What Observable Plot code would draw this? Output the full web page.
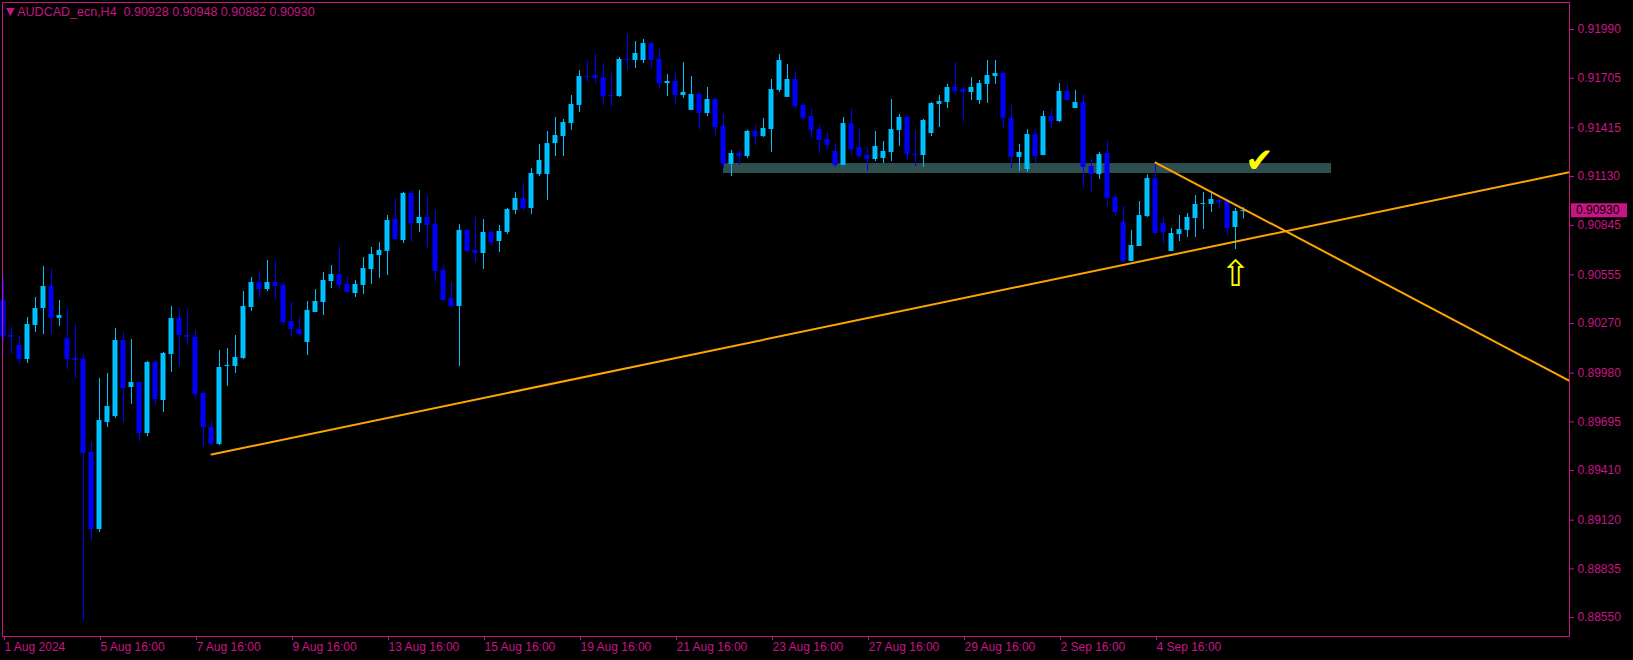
<!DOCTYPE html>
<html><head><meta charset="utf-8">
<script src="https://cdn.jsdelivr.net/npm/d3@7"></script>
<script src="https://cdn.jsdelivr.net/npm/@observablehq/plot@0.6"></script>
<style>
html,body{margin:0;padding:0;background:#000;}
#wrap{position:relative;width:1633px;height:660px;overflow:hidden;background:#000;}
#title{position:absolute;left:6px;top:5px;color:#C71585;font:12.5px "Liberation Sans",Arial,sans-serif;white-space:pre;z-index:2;}
#title .tri{font:11px "DejaVu Sans";position:relative;top:-1px;}
</style></head>
<body><div id="wrap"><div id="title"></div></div>
<script>
const symbol = "AUDCAD_ecn";
const timeframe = "H4";
const opens = [0.90405,0.90200,0.90142,0.90060,0.90259,0.90358,0.90487,0.90300,0.90183,0.90066,
0.90060,0.89516,0.89065,0.89691,0.89726,0.90171,0.89896,0.89925,0.89627,0.90042,
0.89820,0.90089,0.90300,0.90200,0.90189,0.89861,0.89662,0.89563,0.90019,0.90019,
0.90066,0.90364,0.90510,0.90469,0.90510,0.90493,0.90282,0.90235,0.90159,0.90335,
0.90393,0.90516,0.90557,0.90499,0.90446,0.90493,0.90586,0.90668,0.90692,0.90879,
0.90756,0.91031,0.90855,0.90891,0.90850,0.90581,0.90417,0.90370,0.90815,0.90698,
0.90680,0.90803,0.90750,0.90803,0.90932,0.91002,0.90943,0.91142,0.91142,0.91323,
0.91364,0.91440,0.91546,0.91715,0.91721,0.91709,0.91604,0.91598,0.91815,0.91809,
0.91809,0.91908,0.91815,0.91674,0.91686,0.91604,0.91517,0.91610,0.91499,0.91581,
0.91423,0.91201,0.91265,0.91247,0.91394,0.91364,0.91405,0.91634,0.91593,0.91698,
0.91546,0.91481,0.91405,0.91347,0.91277,0.91195,0.91440,0.91300,0.91253,0.91230,
0.91236,0.91271,0.91400,0.91476,0.91259,0.91253,0.91382,0.91552,0.91563,0.91651,
0.91639,0.91622,0.91575,0.91669,0.91715,0.91733,0.91470,0.91242,0.91171,0.91376,
0.91253,0.91481,0.91452,0.91628,0.91528,0.91563,0.91189,0.91142,0.91265,0.91008,
0.90861,0.90633,0.90721,0.90896,0.91119,0.90855,0.90692,0.90791,0.90815,0.90885,
0.90967,0.90967,0.90990,0.90984,0.90832,0.90928];
const highs = [0.90528,0.90247,0.90194,0.90306,0.90423,0.90604,0.90592,0.90405,0.90358,0.90265,
0.90089,0.89574,0.89949,0.89978,0.90241,0.90218,0.90177,0.89925,0.90048,0.90054,
0.90101,0.90370,0.90358,0.90358,0.90230,0.89873,0.89697,0.90113,0.90124,0.90200,
0.90458,0.90540,0.90575,0.90639,0.90639,0.90510,0.90393,0.90306,0.90399,0.90469,
0.90569,0.90610,0.90715,0.90545,0.90522,0.90657,0.90715,0.90744,0.90902,0.91002,
0.91037,0.91049,0.91049,0.91019,0.90932,0.90610,0.90510,0.90850,0.90815,0.90891,
0.90879,0.90815,0.90844,0.90943,0.91037,0.91089,0.91177,0.91318,0.91394,0.91476,
0.91464,0.91604,0.91750,0.91809,0.91844,0.91791,0.91733,0.91826,0.91961,0.91920,
0.91932,0.91908,0.91873,0.91727,0.91733,0.91797,0.91715,0.91622,0.91651,0.91587,
0.91493,0.91283,0.91277,0.91400,0.91429,0.91470,0.91698,0.91844,0.91786,0.91744,
0.91557,0.91528,0.91429,0.91388,0.91323,0.91476,0.91522,0.91405,0.91300,0.91394,
0.91335,0.91581,0.91493,0.91487,0.91400,0.91464,0.91563,0.91604,0.91669,0.91797,
0.91651,0.91709,0.91692,0.91809,0.91809,0.91744,0.91546,0.91318,0.91405,0.91405,
0.91511,0.91522,0.91674,0.91669,0.91634,0.91610,0.91230,0.91271,0.91341,0.91025,
0.90955,0.90815,0.90984,0.91142,0.91212,0.90885,0.90826,0.90902,0.90914,0.91019,
0.91037,0.91037,0.91008,0.91002,0.90943,0.90948];
const lows = [0.90159,0.90089,0.90031,0.90036,0.90218,0.90206,0.90206,0.90253,0.90001,0.89949,
0.88527,0.88995,0.89048,0.89662,0.89715,0.89691,0.89797,0.89580,0.89609,0.89791,
0.89750,0.89984,0.90019,0.90142,0.89826,0.89551,0.89551,0.89557,0.89902,0.89978,
0.90060,0.90341,0.90417,0.90458,0.90411,0.90253,0.90189,0.90194,0.90083,0.90335,
0.90317,0.90475,0.90469,0.90452,0.90423,0.90440,0.90499,0.90534,0.90551,0.90756,
0.90738,0.90744,0.90803,0.90709,0.90516,0.90399,0.90358,0.90019,0.90686,0.90627,
0.90586,0.90721,0.90686,0.90791,0.90908,0.90926,0.90908,0.91130,0.90990,0.91247,
0.91247,0.91400,0.91505,0.91680,0.91669,0.91546,0.91540,0.91593,0.91750,0.91762,
0.91791,0.91762,0.91645,0.91598,0.91552,0.91587,0.91517,0.91405,0.91481,0.91370,
0.91177,0.91130,0.91195,0.91236,0.91312,0.91359,0.91271,0.91622,0.91593,0.91522,
0.91458,0.91353,0.91265,0.91288,0.91183,0.91195,0.91253,0.91236,0.91160,0.91218,
0.91206,0.91218,0.91306,0.91224,0.91189,0.91183,0.91364,0.91417,0.91528,0.91604,
0.91452,0.91575,0.91552,0.91557,0.91669,0.91411,0.91177,0.91160,0.91154,0.91206,
0.91253,0.91411,0.91446,0.91575,0.91528,0.91066,0.91037,0.91113,0.90955,0.90896,
0.90621,0.90633,0.90721,0.90891,0.90785,0.90738,0.90692,0.90750,0.90774,0.90774,
0.90820,0.90920,0.90943,0.90785,0.90703,0.90882];
const closes = [0.90194,0.90189,0.90060,0.90265,0.90358,0.90487,0.90300,0.90317,0.90060,0.90054,
0.89510,0.89065,0.89703,0.89785,0.90171,0.89890,0.89925,0.89627,0.90042,0.89826,
0.90095,0.90300,0.90200,0.90189,0.89855,0.89662,0.89563,0.90013,0.90025,0.90072,
0.90370,0.90510,0.90469,0.90510,0.90487,0.90276,0.90235,0.90206,0.90347,0.90399,
0.90522,0.90557,0.90493,0.90452,0.90499,0.90592,0.90674,0.90698,0.90873,0.90762,
0.91031,0.90855,0.90891,0.90844,0.90575,0.90405,0.90370,0.90815,0.90692,0.90680,
0.90803,0.90744,0.90809,0.90937,0.91002,0.90943,0.91148,0.91224,0.91323,0.91370,
0.91446,0.91552,0.91715,0.91709,0.91704,0.91598,0.91598,0.91815,0.91809,0.91850,
0.91908,0.91809,0.91674,0.91686,0.91604,0.91622,0.91610,0.91499,0.91581,0.91417,
0.91201,0.91265,0.91247,0.91394,0.91364,0.91411,0.91639,0.91809,0.91698,0.91540,
0.91470,0.91400,0.91341,0.91312,0.91195,0.91440,0.91288,0.91247,0.91230,0.91306,
0.91277,0.91405,0.91476,0.91259,0.91253,0.91458,0.91557,0.91569,0.91651,0.91628,
0.91622,0.91651,0.91674,0.91721,0.91733,0.91470,0.91242,0.91271,0.91376,0.91247,
0.91481,0.91452,0.91628,0.91575,0.91563,0.91183,0.91142,0.91259,0.91002,0.90920,
0.90633,0.90727,0.90902,0.91119,0.90797,0.90803,0.90797,0.90820,0.90891,0.90967,
0.90972,0.90996,0.90978,0.90826,0.90926,0.90930];

const xTickBars = [0,12,24,36,48,60,72,84,96,108,120,132,144];
const xTickLabels = ["1 Aug 2024","5 Aug 16:00","7 Aug 16:00","9 Aug 16:00","13 Aug 16:00","15 Aug 16:00","19 Aug 16:00","21 Aug 16:00","23 Aug 16:00","27 Aug 16:00","29 Aug 16:00","2 Sep 16:00","4 Sep 16:00"];
const yTicks = [0.91990,0.91705,0.91415,0.91130,0.90845,0.90555,0.90270,0.89980,0.89695,0.89410,0.89120,0.88835,0.88550];

const supportBars = [26, 196];
const supportPrices = [0.89504, 0.91158];
const resistBars = [144, 196];
const resistPrices = [0.91212, 0.89928];
const zoneBars = [90, 166];
const zonePrices = [0.91148, 0.91206];
const checkBar = [157];
const checkPrice = [0.91221];
const arrowBar = [154];
const arrowPrice = [0.90560];

const bullColor = "#00BFFF", bearColor = "#0000FF", fg = "#C71585";

const candles = opens.map((o, i) => ({i, o, h: highs[i], l: lows[i], c: closes[i], up: closes[i] >= o}));
const col = d => d.up ? bullColor : bearColor;
const trend = [
  ...supportBars.map((b, k) => ({name: "support", b, p: supportPrices[k]})),
  ...resistBars.map((b, k) => ({name: "resist", b, p: resistPrices[k]}))
];
const zone = [{x1: zoneBars[0], x2: zoneBars[1], y1: zonePrices[0], y2: zonePrices[1]}];
const labelMap = new Map(xTickBars.map((b, k) => [b, xTickLabels[k]]));
const last = candles[candles.length - 1];

document.getElementById("title").innerHTML =
  `<span class="tri">▼</span> ${symbol},${timeframe}  ${last.o.toFixed(5)} ${last.h.toFixed(5)} ${last.l.toFixed(5)} ${last.c.toFixed(5)}`;

const chart = Plot.plot({
  width: 1633, height: 660,
  marginLeft: 2, marginRight: 64, marginTop: 2, marginBottom: 24,
  style: {background: "#000", color: fg, fontFamily: "'Liberation Sans', Arial, sans-serif", fontSize: "12px"},
  x: {type: "linear", domain: [-0.125, 195.75], axis: null},
  y: {domain: [0.884394, 0.921483], axis: null},
  marks: [
    Plot.rect(zone, {x1: "x1", x2: "x2", y1: "y1", y2: "y2", fill: "#2F4F4F"}),
    Plot.ruleX(candles, {x: "i", y1: "l", y2: "h", stroke: col, strokeWidth: 1}),
    Plot.rect(candles, {x1: d => d.i - 0.3125, x2: d => d.i + 0.3125, y1: "o", y2: "c", fill: col}),
    Plot.ruleY(candles.filter(d => Math.abs(d.o - d.c) < 0.00004), {y: "c", x1: d => d.i - 0.3125, x2: d => d.i + 0.3125, stroke: col}),
    Plot.line(trend, {x: "b", y: "p", z: "name", stroke: "#FFA500", strokeWidth: 2, clip: true}),
    Plot.text(checkBar, {x: d => d, y: (d, k) => checkPrice[k], text: () => "✔", fill: "#FFFF00", fontSize: 34, fontFamily: "DejaVu Sans"}),
    Plot.text(arrowBar, {x: d => d, y: (d, k) => arrowPrice[k], text: () => "⇧", fill: "#FFFF00", fontSize: 36, fontFamily: "DejaVu Sans"}),
    Plot.frame({stroke: fg}),
    Plot.axisY({anchor: "right", ticks: yTicks, tickFormat: d => d.toFixed(5), tickSize: 4, tickPadding: 4, stroke: fg, fill: fg}),
    Plot.axisX({anchor: "bottom", ticks: xTickBars, tickFormat: d => labelMap.get(d), tickSize: 4, tickPadding: 2, textAnchor: "start", dx: 1, stroke: fg, fill: fg})
  ]
});
document.getElementById("wrap").appendChild(chart);

// current price label on the right axis
const ys = chart.scale("y");
const yy = ys.apply(last.c);
const svg = d3.select(chart);
const g = svg.append("g").attr("text-anchor", "start");
g.append("rect").attr("x", 1571).attr("y", yy - 7).attr("width", 56).attr("height", 14).attr("fill", fg);
g.append("text").attr("x", 1576).attr("y", yy).attr("dy", "0.35em").attr("fill", "#000").attr("text-anchor", "start")
  .attr("font-family", "'Liberation Sans', Arial, sans-serif").attr("font-size", 12).text(last.c.toFixed(5));
</script>
</body></html>
